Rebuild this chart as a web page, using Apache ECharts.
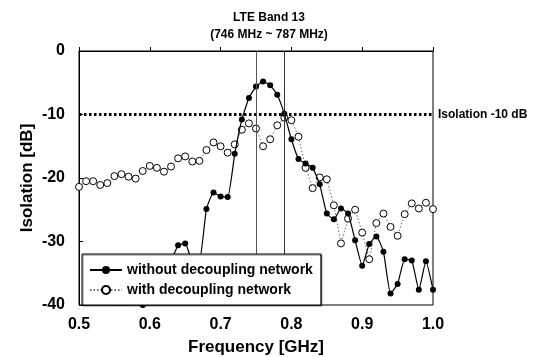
<!DOCTYPE html>
<html>
<head>
<meta charset="utf-8">
<script src="https://cdn.jsdelivr.net/npm/echarts@6/dist/echarts.min.js"></script>
<style>html,body{margin:0;padding:0;background:#fff}#c{width:558px;height:357px}</style>
</head>
<body>
<div id="c"></div>
<script>
// Frequency (GHz)
const freqs = [0.50,0.51,0.52,0.53,0.54,0.55,0.56,0.57,0.58,0.59,0.60,0.61,0.62,0.63,0.64,0.65,0.66,0.67,0.68,0.69,0.70,0.71,0.72,0.73,0.74,0.75,0.76,0.77,0.78,0.79,0.80,0.81,0.82,0.83,0.84,0.85,0.86,0.87,0.88,0.89,0.90,0.91,0.92,0.93,0.94,0.95,0.96,0.97,0.98,0.99,1.00];
// Isolation without decoupling network (dB)
const withoutNet = [-42,-43,-42,-41,-41.5,-40.5,-39.3,-40.5,-41,-40,-38,-36,-34,-33,-30.6,-30.3,-33,-33,-24.9,-22.3,-22.9,-23.0,-16.2,-10.8,-7.4,-5.6,-4.8,-5.4,-6.9,-9.9,-13.9,-17.0,-17.7,-18.4,-21.0,-25.6,-26.5,-24.8,-25.6,-29.8,-33.8,-30.4,-29.2,-31.6,-38.2,-36.7,-32.8,-33.0,-37.6,-33.1,-37.6];
// Isolation with decoupling network (dB)
const withNet = [-21.4,-20.5,-20.5,-21.1,-20.8,-19.7,-19.4,-19.8,-20.1,-18.9,-18.1,-18.4,-19.0,-18.2,-16.9,-16.6,-17.4,-17.3,-15.6,-14.4,-15.0,-16.0,-14.7,-12.4,-11.4,-12.2,-15.0,-13.9,-11.7,-10.5,-10.9,-13.5,-18.4,-21.6,-19.9,-20.2,-24.3,-30.3,-26.4,-25.0,-28.6,-32.8,-27.1,-25.6,-27.7,-29.1,-25.7,-24.0,-24.8,-23.9,-24.9];
const bandEdges = [0.746, 0.787];
const threshold = -10;
const xTicks = {min:0.5, max:1.0, step:0.1};
const yTicks = {min:-40, max:0, step:10};
const seriesNames = ['without decoupling network','with decoupling network'];
const titleLines = ['LTE Band 13','(746 MHz ~ 787 MHz)'];
const thresholdLabel = 'Isolation -10 dB';

const chart = echarts.init(document.getElementById('c'), null, {renderer:'canvas'});
const F = 'Arial, "Liberation Sans", sans-serif';
const pair = a => freqs.map((f,i)=>[f,a[i]]);
chart.setOption({
  animation:false,
  backgroundColor:'#fff',
  grid:{left:79,right:125,top:51,bottom:52,containLabel:false,outerBoundsMode:'none',show:true,borderColor:'#000',borderWidth:1,backgroundColor:'transparent'},
  graphic:[
    {type:'text',x:269,y:18,style:{text:titleLines[0],font:'bold 12px '+F,fill:'#000',textAlign:'center',textVerticalAlign:'middle'}},
    {type:'text',x:269,y:35,style:{text:titleLines[1],font:'bold 12px '+F,fill:'#000',textAlign:'center',textVerticalAlign:'middle'}}
  ],
  xAxis:{type:'value',min:xTicks.min,max:xTicks.max,interval:xTicks.step,
    name:'Frequency [GHz]',nameLocation:'middle',nameGap:34,nameMoveOverlap:false,
    nameTextStyle:{fontFamily:F,fontWeight:'bold',fontSize:17,color:'#000'},
    axisLine:{show:true,lineStyle:{color:'#000',width:1}},
    axisTick:{show:true,inside:true,length:4,lineStyle:{color:'#000'}},
    splitLine:{show:false},
    axisLabel:{fontFamily:F,fontWeight:'bold',fontSize:16,color:'#000',margin:12,formatter:v=>v.toFixed(1)}
  },
  yAxis:{type:'value',min:yTicks.min,max:yTicks.max,interval:yTicks.step,
    name:'Isolation [dB]',nameLocation:'middle',nameGap:43,nameRotate:90,nameMoveOverlap:false,
    nameTextStyle:{fontFamily:F,fontWeight:'bold',fontSize:17,color:'#000'},
    axisLine:{show:true,lineStyle:{color:'#000',width:1}},
    axisTick:{show:true,inside:true,length:4,lineStyle:{color:'#000'}},
    splitLine:{show:false},
    axisLabel:{fontFamily:F,fontWeight:'bold',fontSize:16,color:'#000',margin:14}
  },
  legend:{orient:'vertical',left:82,top:254,itemWidth:32,itemHeight:10,itemGap:6,z:20,
    padding:[9,8,8,7],backgroundColor:'#fff',borderColor:'#000',borderWidth:1,
    shadowColor:'rgba(0,0,0,0.5)',shadowOffsetX:1,shadowOffsetY:1,shadowBlur:0,
    textStyle:{fontFamily:F,fontWeight:'bold',fontSize:14,color:'#000'},
    data:seriesNames},
  series:[
    {name:seriesNames[1],type:'line',data:pair(withNet),symbol:'circle',symbolSize:7,
      itemStyle:{color:'#fff',borderColor:'#000',borderWidth:1},
      lineStyle:{color:'#666',width:1,type:[1.5,2]},z:2},
    {name:seriesNames[0],type:'line',data:pair(withoutNet),symbol:'circle',symbolSize:6,smooth:0.15,
      itemStyle:{color:'#000',borderColor:'#000',borderWidth:0},
      lineStyle:{color:'#000',width:1.2},z:3,
      markLine:{silent:true,symbol:'none',animation:false,
        data:[
          {yAxis:threshold,lineStyle:{color:'#000',width:3,type:[2.5,2.5]},
            label:{show:true,position:'end',distance:5,formatter:thresholdLabel,fontFamily:F,fontWeight:'bold',fontSize:12,color:'#000'}},
          {xAxis:bandEdges[0],lineStyle:{color:'#555',width:1,type:'solid'},label:{show:false}},
          {xAxis:bandEdges[1],lineStyle:{color:'#333',width:1,type:'solid'},label:{show:false}}
        ]}}
  ]
});
</script>
</body>
</html>
